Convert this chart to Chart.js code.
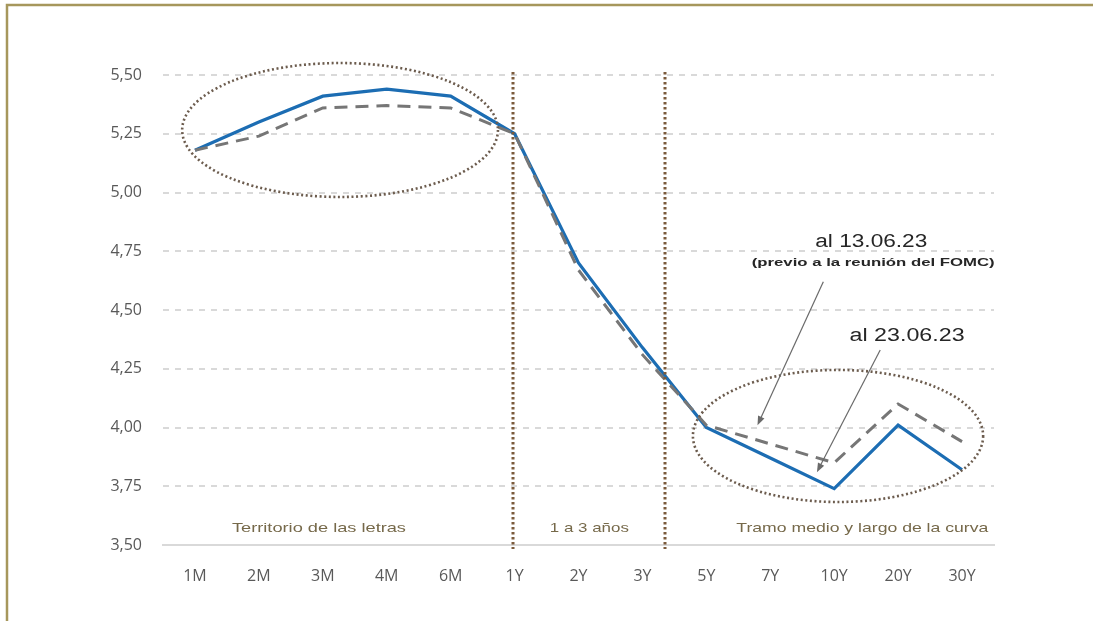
<!DOCTYPE html>
<html>
<head>
<meta charset="utf-8">
<script src="https://cdn.jsdelivr.net/npm/chart.js@4/dist/chart.umd.min.js"></script>
<style>
  html, body { margin: 0; padding: 0; background: #ffffff; }
  #wrap { position: relative; width: 1093px; height: 621px; }
  canvas { display: block; }
</style>
</head>
<body>
<div id="wrap"><canvas id="c" width="1093" height="621"></canvas></div>
<script>
// Curva de rendimientos del Tesoro EE.UU. (%)
const tenors = ['1M', '2M', '3M', '4M', '6M', '1Y', '2Y', '3Y', '5Y', '7Y', '10Y', '20Y', '30Y'];
const curve2306 = [5.18, 5.30, 5.41, 5.44, 5.41, 5.25, 4.70, 4.34, 4.00, 3.87, 3.74, 4.01, 3.82];
const curve1306 = [5.18, 5.24, 5.36, 5.37, 5.36, 5.25, 4.67, 4.31, 4.01, 3.93, 3.85, 4.10, 3.94];
const yMin = 3.5, yMax = 5.5, yStep = 0.25;

// Tramos de la curva (índices de categoría) y sus rótulos
const segmentBreaks = [5, 7.38];
const segmentLabels = [
  { text: 'Territorio de las letras', at: 1.94, w: 174 },
  { text: '1 a 3 años', at: 6.17, w: 79 },
  { text: 'Tramo medio y largo de la curva', at: 10.44, w: 252 }
];

const fmt = v => v.toFixed(2).replace('.', ',');

// texto centrado, ensanchado horizontalmente hasta un ancho dado
function wideText(c, text, x, y, width) {
  const m = c.measureText(text).width;
  const k = width / m;
  c.save();
  c.translate(x, y);
  c.scale(k, 1);
  c.fillText(text, 0, 0);
  c.restore();
}

const overlay = {
  id: 'overlay',
  beforeDraw(chart) {
    const c = chart.ctx;
    c.save();
    c.fillStyle = '#ffffff';
    c.fillRect(0, 0, chart.width, chart.height);
    // marco
    c.strokeStyle = '#a6975c';
    c.lineWidth = 2.5;
    c.beginPath();
    c.moveTo(7, chart.height + 5);
    c.lineTo(7, 5);
    c.lineTo(chart.width + 5, 5);
    c.stroke();
    c.restore();
  },
  afterDatasetsDraw(chart) {
    const c = chart.ctx;
    const xs = chart.scales.x, ys = chart.scales.y;
    const X = i => xs.getPixelForValue(i);
    const Y = v => ys.getPixelForValue(v);
    const area = chart.chartArea;
    c.save();

    // separadores de tramos
    c.strokeStyle = '#7b5b3c';
    c.lineWidth = 3;
    c.setLineDash([2.5, 2.5]);
    segmentBreaks.forEach(b => {
      const x = Math.round(X(b)) - 2;
      c.beginPath();
      c.moveTo(x, area.top - 3);
      c.lineTo(x, area.bottom + 4);
      c.stroke();
    });

    // elipses punteadas
    c.strokeStyle = '#6c5c4e';
    c.lineWidth = 2.6;
    c.setLineDash([2, 2.6]);
    const ell = (ci, cv, ri, rv) => {
      const cx = X(ci), cy = Y(cv);
      const rx = X(ci + ri) - cx, ry = cy - Y(cv + rv);
      c.beginPath();
      c.ellipse(cx, cy, rx, ry, 0, 0, Math.PI * 2);
      c.stroke();
    };
    ell(2.27, 5.266, 2.47, 0.285);
    ell(10.06, 3.964, 2.27, 0.281);

    // flechas de anotación
    c.setLineDash([]);
    const arrow = (i0, v0, i1, v1) => {
      const x0 = X(i0), y0 = Y(v0), x1 = X(i1), y1 = Y(v1);
      const a = Math.atan2(y1 - y0, x1 - x0);
      c.strokeStyle = '#6a6a6a';
      c.fillStyle = '#6a6a6a';
      c.lineWidth = 1.2;
      c.beginPath();
      c.moveTo(x0, y0);
      c.lineTo(x1 - 6 * Math.cos(a), y1 - 6 * Math.sin(a));
      c.stroke();
      c.beginPath();
      c.moveTo(x1, y1);
      c.lineTo(x1 - 9 * Math.cos(a) + 3.5 * Math.sin(a), y1 - 9 * Math.sin(a) - 3.5 * Math.cos(a));
      c.lineTo(x1 - 9 * Math.cos(a) - 3.5 * Math.sin(a), y1 - 9 * Math.sin(a) + 3.5 * Math.cos(a));
      c.closePath();
      c.fill();
    };
    arrow(9.83, 4.62, 8.80, 4.01);
    arrow(10.72, 4.33, 9.73, 3.81);

    // textos de anotación
    c.textAlign = 'center';
    c.textBaseline = 'middle';
    c.fillStyle = '#262626';
    c.font = '18px "Liberation Sans", Arial, sans-serif';
    wideText(c, 'al 13.06.23', X(10.58), Y(4.79), 112);
    wideText(c, 'al 23.06.23', X(11.14), Y(4.39), 115);
    c.font = 'bold 11px "Liberation Sans", Arial, sans-serif';
    wideText(c, '(previo a la reunión del FOMC)', X(10.61), Y(4.70), 243);

    // rótulos de tramos
    c.fillStyle = '#76694a';
    c.font = '13px "Liberation Sans", Arial, sans-serif';
    segmentLabels.forEach(s => wideText(c, s.text, X(s.at), area.bottom - 17, s.w));
    c.restore();
  }
};

new Chart(document.getElementById('c'), {
  type: 'line',
  data: {
    labels: tenors,
    datasets: [
      {
        label: 'al 13.06.23',
        data: curve1306,
        borderColor: '#767676',
        borderWidth: 3,
        borderDash: [13, 8],
        pointRadius: 0,
        tension: 0,
        fill: false
      },
      {
        label: 'al 23.06.23',
        data: curve2306,
        borderColor: '#1c6db3',
        borderWidth: 3.2,
        pointRadius: 0,
        tension: 0,
        fill: false
      }
    ]
  },
  options: {
    responsive: false,
    animation: false,
    devicePixelRatio: 1,
    layout: { padding: { left: 0, right: 99, top: 75, bottom: 0 } },
    plugins: { legend: { display: false }, tooltip: { enabled: false } },
    scales: {
      x: {
        offset: true,
        afterFit: s => { s.height = 76; },
        grid: { display: false, drawTicks: false },
        border: { display: true, color: '#d9d9d9', width: 2 },
        ticks: {
          color: '#595959',
          padding: 22,
          font: { family: '"Liberation Sans Narrow", "Open Sans", sans-serif', size: 16 },
          maxRotation: 0, autoSkip: false
        }
      },
      y: {
        min: yMin,
        max: yMax,
        afterFit: s => { s.width = 163; },
        afterBuildTicks: s => {
          const t = [];
          for (let v = yMin; v <= yMax + 1e-9; v += yStep) t.push({ value: +v.toFixed(2) });
          s.ticks = t;
        },
        grid: {
          drawTicks: false,
          color: ctx => (ctx.tick && ctx.tick.value === yMin) ? 'rgba(0,0,0,0)' : '#d9d9d9',
          lineWidth: 2
        },
        border: { display: false, dash: [6, 6] },
        ticks: {
          color: '#595959',
          padding: 21,
          font: { family: '"Liberation Sans Narrow", "Open Sans", sans-serif', size: 16 },
          callback: v => fmt(v)
        }
      }
    }
  },
  plugins: [overlay]
});
</script>
</body>
</html>
